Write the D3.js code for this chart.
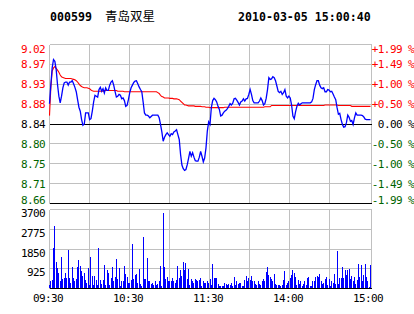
<!DOCTYPE html>
<html>
<head>
<meta charset="utf-8">
<script src="https://cdn.jsdelivr.net/npm/d3@7"></script>
<style>
  body { margin: 0; background: #fff; }
  svg { display: block; }
  text { font-family: 'DejaVu Sans Mono', monospace; font-size: 11px; letter-spacing: -0.6px; }
</style>
</head>
<body>
<svg id="chart" width="414" height="314"></svg>
<script>
const code = '000599'
const stockName = '青岛双星'
const stamp = '2010-03-05 15:00:40'
const prevClose = 8.84

// price grid values and their labels
const priceGrid = [9.02, 8.975, 8.93, 8.885, 8.84, 8.795, 8.75, 8.705, 8.66]
const priceLabels = ['9.02', '8.97', '8.93', '8.88', '8.84', '8.80', '8.75', '8.71', '8.66']
const pctLabels = ['+1.99 %', '+1.49 %', '+1.00 %', '+0.50 %', '0.00 %', '-0.50 %', '-1.00 %', '-1.49 %', '-1.99 %']
const volGrid = [3700, 2775, 1850, 925, 0]
const volLabels = ['3700', '2775', '1850', '925']
const timeLabels = ['09:30', '10:30', '11:30', '14:00', '15:00']
const timeSlots = [0, 2, 4, 6, 8]

// one point per minute, 09:30-11:30 then 13:01-15:00
const prices = [
  8.886, 8.929, 8.967, 8.986, 8.982, 8.963, 8.929, 8.903, 8.888, 8.903,
  8.922, 8.933, 8.935, 8.935, 8.928, 8.935, 8.935, 8.938, 8.931, 8.923,
  8.913, 8.895, 8.878, 8.869, 8.850, 8.837, 8.840, 8.865, 8.865, 8.865,
  8.850, 8.852, 8.869, 8.890, 8.905, 8.903, 8.901, 8.918, 8.923, 8.914,
  8.920, 8.910, 8.922, 8.916, 8.916, 8.928, 8.935, 8.938, 8.928, 8.914,
  8.901, 8.903, 8.907, 8.905, 8.897, 8.899, 8.893, 8.880, 8.882, 8.895,
  8.911, 8.922, 8.928, 8.934, 8.937, 8.938, 8.931, 8.924, 8.918, 8.913,
  8.890, 8.865, 8.860, 8.860, 8.858, 8.854, 8.857, 8.860, 8.860, 8.860,
  8.860, 8.860, 8.854, 8.839, 8.822, 8.801, 8.810, 8.816, 8.820, 8.816,
  8.812, 8.818, 8.816, 8.822, 8.824, 8.827, 8.816, 8.805, 8.771, 8.747,
  8.739, 8.735, 8.737, 8.748, 8.763, 8.778, 8.767, 8.775, 8.765, 8.757,
  8.756, 8.756, 8.765, 8.778, 8.767, 8.754, 8.763, 8.786, 8.824, 8.845,
  8.839, 8.877, 8.893, 8.898, 8.895, 8.890, 8.880, 8.873, 8.858, 8.860,
  8.865, 8.869, 8.871, 8.875, 8.880, 8.886, 8.883, 8.887, 8.897, 8.898,
  8.894, 8.889, 8.883, 8.890, 8.892, 8.897, 8.892, 8.897, 8.898, 8.907,
  8.918, 8.907, 8.893, 8.888, 8.888, 8.888, 8.888, 8.892, 8.899, 8.893,
  8.883, 8.886, 8.898, 8.918, 8.945, 8.941, 8.942, 8.947, 8.945, 8.938,
  8.926, 8.914, 8.911, 8.914, 8.907, 8.911, 8.918, 8.903, 8.899, 8.903,
  8.899, 8.883, 8.858, 8.852, 8.868, 8.880, 8.887, 8.883, 8.886, 8.888,
  8.888, 8.888, 8.888, 8.888, 8.888, 8.888, 8.890, 8.898, 8.918, 8.929,
  8.938, 8.938, 8.928, 8.922, 8.920, 8.922, 8.913, 8.913, 8.918, 8.917,
  8.913, 8.914, 8.908, 8.901, 8.895, 8.877, 8.862, 8.864, 8.850, 8.839,
  8.833, 8.834, 8.843, 8.860, 8.855, 8.846, 8.848, 8.839, 8.854, 8.865,
  8.860, 8.860, 8.860, 8.860, 8.859, 8.856, 8.851, 8.850, 8.850, 8.850,
  8.850
]

const avgPrices = [
  8.859, 8.922, 8.960, 8.967, 8.970, 8.966, 8.962, 8.957, 8.951, 8.947,
  8.945, 8.944, 8.943, 8.943, 8.943, 8.943, 8.943, 8.942, 8.941, 8.940,
  8.938, 8.935, 8.931, 8.927, 8.925, 8.923, 8.922, 8.922, 8.922, 8.921,
  8.920, 8.917, 8.915, 8.914, 8.914, 8.914, 8.914, 8.914, 8.914, 8.914,
  8.914, 8.916, 8.916, 8.916, 8.916, 8.916, 8.916, 8.916, 8.916, 8.916,
  8.916, 8.914, 8.914, 8.914, 8.914, 8.914, 8.913, 8.913, 8.913, 8.913,
  8.913, 8.913, 8.913, 8.913, 8.913, 8.913, 8.913, 8.913, 8.913, 8.913,
  8.913, 8.913, 8.913, 8.913, 8.913, 8.913, 8.913, 8.913, 8.913, 8.913,
  8.913, 8.911, 8.909, 8.905, 8.902, 8.901, 8.899, 8.899, 8.899, 8.899,
  8.898, 8.898, 8.898, 8.897, 8.897, 8.897, 8.896, 8.895, 8.892, 8.889,
  8.886, 8.883, 8.883, 8.882, 8.881, 8.881, 8.881, 8.881, 8.881, 8.880,
  8.880, 8.880, 8.880, 8.880, 8.879, 8.879, 8.879, 8.878, 8.878, 8.878,
  8.877, 8.877, 8.877, 8.877, 8.877, 8.877, 8.877, 8.877, 8.877, 8.877,
  8.877, 8.878, 8.878, 8.878, 8.878, 8.878, 8.878, 8.878, 8.878, 8.878,
  8.878, 8.878, 8.878, 8.878, 8.878, 8.878, 8.878, 8.878, 8.878, 8.878,
  8.878, 8.878, 8.878, 8.878, 8.878, 8.878, 8.878, 8.878, 8.878, 8.878,
  8.878, 8.879, 8.879, 8.879, 8.879, 8.879, 8.882, 8.882, 8.882, 8.882,
  8.882, 8.882, 8.882, 8.882, 8.882, 8.882, 8.882, 8.882, 8.882, 8.882,
  8.882, 8.882, 8.882, 8.882, 8.882, 8.882, 8.882, 8.882, 8.882, 8.882,
  8.882, 8.882, 8.882, 8.882, 8.882, 8.882, 8.882, 8.882, 8.882, 8.882,
  8.882, 8.882, 8.882, 8.882, 8.882, 8.882, 8.883, 8.883, 8.883, 8.883,
  8.883, 8.883, 8.883, 8.883, 8.883, 8.883, 8.882, 8.882, 8.882, 8.882,
  8.882, 8.882, 8.882, 8.882, 8.882, 8.882, 8.880, 8.880, 8.880, 8.880,
  8.880, 8.880, 8.880, 8.880, 8.880, 8.880, 8.880, 8.880, 8.880, 8.880,
  8.880
]

const volumes = [
  172, 374, 421, 1888, 2948, 1264, 952, 733, 374, 1498,
  468, 515, 749, 515, 1825, 515, 265, 1030, 515, 374,
  468, 1030, 1357, 1076, 842, 608, 749, 421, 281, 983,
  187, 1498, 608, 187, 608, 421, 187, 1919, 421, 234,
  421, 1123, 187, 889, 749, 187, 515, 1030, 374, 562,
  1404, 468, 983, 140, 328, 374, 1076, 702, 562, 281,
  281, 421, 2106, 468, 655, 702, 281, 936, 234, 140,
  2434, 468, 468, 1451, 374, 328, 234, 281, 187, 374,
  187, 234, 328, 1076, 94, 3557, 1030, 468, 562, 328,
  328, 328, 515, 374, 281, 421, 1076, 515, 889, 608,
  1264, 889, 1217, 468, 936, 187, 468, 374, 281, 468,
  421, 374, 421, 515, 94, 328, 281, 281, 374, 281,
  468,
  187, 1170, 515, 515, 515, 234, 140, 140, 140, 94,
  281, 234, 187, 234, 187, 281, 140, 562, 187, 328,
  234, 281, 281, 140, 94, 421, 608, 328, 515, 421,
  608, 328, 374, 234, 187, 374, 234, 187, 328, 468,
  328, 796, 1030, 655, 562, 468, 328, 702, 234, 187,
  187, 187, 140, 187, 421, 842, 187, 281, 374, 515,
  655, 889, 749, 562, 187, 421, 234, 328, 140, 234,
  374, 187, 515, 562, 140, 140, 374, 374, 562, 608,
  562, 702, 374, 234, 281, 468, 562, 187, 468, 140,
  328, 281, 702, 234, 1778, 234, 515, 515, 1030, 515,
  889, 655, 889, 936, 468, 608, 328, 562, 234, 421,
  1170, 562, 1123, 328, 655, 1170, 562, 374, 62, 1123
]

const red = '#ff0000', green = '#006400', grid = '#c0c0c0'

const svg = d3.select('#chart')

const x = d3.scaleLinear().domain([0, prices.length - 1]).range([49.5, 370.5])
const xGrid = d3.scaleLinear().domain([0, 8]).range([49.5, 369.5])
const y = d3.scaleLinear().domain([8.66, 9.02]).range([203.5, 44.5])
const yv = d3.scaleLinear().domain([0, 3700]).range([288.5, 209.5])
const left = 49.5, right = 371.5
const crisp = v => Math.floor(v) + 0.5

const labelColor = i => i < 4 ? red : (i === 4 ? '#000' : green)

// header
svg.append('text').attr('x', 50).attr('y', 21)
  .style('font-weight', 'bold').style('font-size', '11.6px').style('letter-spacing', '0px').text(code)
svg.append('text').attr('x', 105).attr('y', 21)
  .style('font-family', "'Noto Sans CJK SC', sans-serif").style('font-size', '12.5px')
  .style('letter-spacing', '0px')
  .text(stockName)
svg.append('text').attr('x', 238).attr('y', 21)
  .style('font-weight', 'bold').style('font-size', '11.6px').style('letter-spacing', '0px').text(stamp)

const g = svg.append('g').attr('shape-rendering', 'crispEdges')

// price panel grid
g.selectAll('line.h').data(priceGrid.filter(v => v !== prevClose && v !== 8.66))
  .enter().append('line')
    .attr('class', 'h')
    .attr('x1', left).attr('x2', right)
    .attr('y1', d => crisp(y(d))).attr('y2', d => crisp(y(d)))
    .attr('stroke', grid)

g.selectAll('line.hv').data(volGrid.slice(0, 4))
  .enter().append('line')
    .attr('class', 'hv')
    .attr('x1', left).attr('x2', right)
    .attr('y1', d => crisp(yv(d))).attr('y2', d => crisp(yv(d)))
    .attr('stroke', grid)

const vx = d3.range(0, 8).map(k => crisp(xGrid(k))).concat([right])
vx.forEach(px => {
  g.append('line').attr('x1', px).attr('x2', px)
    .attr('y1', crisp(y(9.02))).attr('y2', crisp(y(8.66)))
    .attr('stroke', grid)
  g.append('line').attr('x1', px).attr('x2', px)
    .attr('y1', crisp(yv(3700))).attr('y2', crisp(yv(0)))
    .attr('stroke', grid)
})

// volume bars
g.selectAll('rect.vol').data(volumes)
  .enter().append('rect')
    .attr('class', 'vol')
    .attr('x', (d, i) => Math.floor(x(i)))
    .attr('width', 1)
    .attr('y', d => Math.round(yv(d)))
    .attr('height', d => Math.floor(yv(0)) - Math.round(yv(d)))
    .attr('fill', '#0000ff')

// black base lines
;[y(prevClose), y(8.66), yv(0)].forEach(py => {
  g.append('line').attr('x1', left).attr('x2', right)
    .attr('y1', crisp(py)).attr('y2', crisp(py))
    .attr('stroke', '#000')
})

// average and price lines
const line = d3.line().x((d, i) => x(i)).y(d => y(d))
svg.append('path').datum(avgPrices)
  .attr('d', line).attr('fill', 'none')
  .attr('stroke', red).attr('stroke-width', 1.1)
svg.append('path').datum(prices)
  .attr('d', line).attr('fill', 'none')
  .attr('stroke', '#0000ff').attr('stroke-width', 1.3)

// axis labels
const priceBase = (d, i) => {
  if (i === 0) return y(d) + 8
  if (i === priceGrid.length - 1) return y(d)
  return y(d) + 4
}
svg.selectAll('text.pl').data(priceGrid)
  .enter().append('text')
    .attr('class', 'pl')
    .attr('x', 45).attr('y', priceBase)
    .attr('text-anchor', 'end')
    .attr('fill', (d, i) => labelColor(i))
    .text((d, i) => priceLabels[i])

svg.selectAll('text.pct').data(priceGrid)
  .enter().append('text')
    .attr('class', 'pct')
    .attr('x', 414).attr('y', priceBase)
    .attr('text-anchor', 'end')
    .attr('fill', (d, i) => labelColor(i))
    .text((d, i) => pctLabels[i])

svg.selectAll('text.vl').data(volGrid.slice(0, 4))
  .enter().append('text')
    .attr('class', 'vl')
    .attr('x', 45).attr('y', d => yv(d) + 7.5)
    .attr('text-anchor', 'end')
    .text((d, i) => volLabels[i])

svg.selectAll('text.tl').data(timeSlots)
  .enter().append('text')
    .attr('class', 'tl')
    .attr('x', d => xGrid(d) - 1.5).attr('y', 302)
    .attr('text-anchor', 'middle')
    .text((d, i) => timeLabels[i])
</script>
</body>
</html>
